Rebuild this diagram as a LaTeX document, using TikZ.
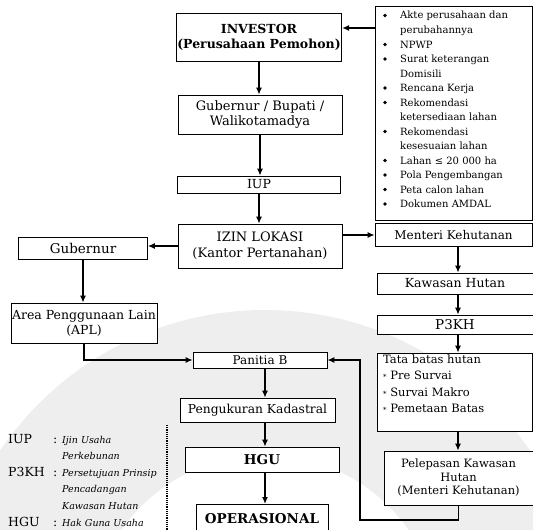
\documentclass[tikz,border=0pt]{standalone}
\usepackage{fontspec}
\setmainfont{DejaVu Serif}
\usetikzlibrary{arrows.meta}

\begin{document}
\begin{tikzpicture}[x=1pt,y=-1pt,
  kotak/.style={draw,line width=0.7pt,align=center,inner sep=1pt,font=\fontsize{12}{14}\selectfont},
  besar/.style={font=\fontsize{12.5}{15}\selectfont},
  tebal/.style={font=\fontsize{12.5}{15}\selectfont\bfseries},
  panah/.style={line width=2.2pt,-{Latex[length=7pt,width=6pt]}},
  isi/.style={anchor=base west,inner sep=0pt,font=\fontsize{10}{12}\selectfont},
  titik/.style={circle,fill,inner sep=0pt,minimum size=3.6pt},
  ket/.style={anchor=base west,inner sep=0pt,font=\fontsize{12.5}{14}\selectfont},
  arti/.style={anchor=base west,inner sep=0pt,font=\fontsize{9.5}{11}\selectfont\itshape}]
\useasboundingbox (0,0) rectangle (533,530);
\clip (0,0) rectangle (533,530);

% tanda air
\fill[gray!13,even odd rule] (265,630) circle[radius=320] (265,630) circle[radius=175];

% kolom tengah atas
\node[kotak,tebal,minimum width=164,minimum height=48] (inv) at (259,37) {INVESTOR\\(Perusahaan Pemohon)};
\node[kotak,font=\fontsize{13}{15.5}\selectfont,minimum width=164,minimum height=39] (gub) at (260,114.5) {Gubernur / Bupati /\\Walikotamadya};
\node[kotak,besar,minimum width=163,minimum height=17] (iup) at (259,184.5) {IUP};
\node[kotak,font=\fontsize{13}{16}\selectfont,minimum width=164,minimum height=44] (izin) at (260,246) {IZIN LOKASI\\(Kantor Pertanahan)};

% persyaratan
\node[kotak,fill=white,minimum width=157,minimum height=214] (syarat) at (453.5,113) {};
\foreach \n/\t in {0/Akte perusahaan dan,1/perubahannya,2/NPWP,3/Surat keterangan,4/Domisili,5/Rencana Kerja,6/Rekomendasi,7/ketersediaan lahan,8/Rekomendasi,9/kesesuaian lahan,10/Lahan ≤ 20 000 ha,11/Pola Pengembangan,12/Peta calon lahan,13/Dokumen AMDAL}
  \node[isi] (s\n) at (400,19+14.5*\n) {\t};
\foreach \n in {0,2,3,5,6,8,10,11,12,13}
  \node[titik] (b\n) at (385,15.5+14.5*\n) {};

% kolom kanan
\node[kotak,fill=white,minimum width=157,minimum height=23] (menteri) at (453.5,235) {Menteri Kehutanan};
\node[kotak,fill=white,besar,minimum width=156,minimum height=21] (kawasan) at (455,283.5) {Kawasan Hutan};
\node[kotak,fill=white,font=\fontsize{13.5}{15}\selectfont,minimum width=156,minimum height=19] (p3kh) at (455,324.5) {P3KH};
\node[kotak,fill=white,minimum width=155,minimum height=78] (tata) at (455,392) {};
\node[isi,font=\fontsize{11.5}{13}\selectfont] (t0) at (383,363) {Tata batas hutan};
\foreach \n/\t in {1/Pre Survai,2/Survai Makro,3/Pemetaan Batas}
  \node[isi,font=\fontsize{11.5}{13}\selectfont] (t\n) at (383,363+16.5*\n) {{\fontsize{7}{7}\selectfont*} \t};
\node[kotak,fill=white,font=\fontsize{11.5}{13.5}\selectfont,minimum width=149,minimum height=54] (lepas) at (458.5,478) {Pelepasan Kawasan\\Hutan\\(Menteri Kehutanan)};

% kolom kiri
\node[kotak,fill=white,font=\fontsize{13.5}{15}\selectfont,minimum width=129,minimum height=22] (gubkiri) at (83,248) {Gubernur};
\node[kotak,fill=white,besar,minimum width=146,minimum height=40] (apl) at (84,323) {Area Penggunaan Lain\\(APL)};

% kolom tengah bawah
\node[kotak,fill=white,minimum width=134,minimum height=16] (panitia) at (260,360) {Panitia B};
\node[kotak,fill=white,font=\fontsize{12.3}{14}\selectfont,minimum width=155,minimum height=24] (ukur) at (257.5,410) {Pengukuran Kadastral};
\node[kotak,fill=white,font=\fontsize{13.5}{15}\selectfont\bfseries,minimum width=154,minimum height=25] (hgu) at (262,459.5) {HGU};
\node[kotak,fill=white,font=\fontsize{13.5}{15}\selectfont\bfseries,anchor=north,minimum width=132,text height=15pt,text depth=22pt,inner sep=4pt] (ops) at (262,504) {OPERASIONAL};
\coordinate (kolom) at (265,0);
\coordinate (balik) at (360,520);

% keterangan
\node[ket] (k1) at (8,443) {IUP};
\node[ket] (k2) at (8,476) {P3KH};
\node[ket] (k3) at (8,526) {HGU};
\foreach \y in {443,476,526}
  \node[ket] (c\y) at (53,\y) {:};
\node[arti] (a1) at (62,443) {Ijin Usaha};
\node[arti] (a2) at (62,459) {Perkebunan};
\node[arti] (a3) at (62,476) {Persetujuan Prinsip};
\node[arti] (a4) at (62,492) {Pencadangan};
\node[arti] (a5) at (62,509) {Kawasan Hutan};
\node[arti] (a6) at (62,526) {Hak Guna Usaha};
\draw[line width=1.2pt,densely dotted] (167,425) -- (167,530);

% panah
\draw[panah] (inv.south) -- (inv.south |- gub.north);
\draw[panah] (gub.south) -- (gub.south |- iup.north);
\draw[panah] (iup.south) -- (iup.south |- izin.north);
\draw[panah] ([yshift=9pt]inv.east -| syarat.west) -- ([yshift=9pt]inv.east);
\draw[panah] (izin.west) -- (izin.west -| gubkiri.east);
\draw[panah] (gubkiri.south) -- (gubkiri.south |- apl.north);
\draw[panah] (izin.east |- menteri) -- (menteri.west);
\draw[panah] ([xshift=4.5pt]menteri.south) -- ([xshift=4.5pt]menteri.south |- kawasan.north);
\draw[panah] ([xshift=3pt]kawasan.south) -- ([xshift=3pt]kawasan.south |- p3kh.north);
\draw[panah] ([xshift=3pt]p3kh.south) -- ([xshift=3pt]p3kh.south |- tata.north);
\draw[panah] ([xshift=3pt]tata.south) -- ([xshift=3pt]tata.south |- lepas.north);
\draw[panah] (apl.south) |- (panitia.west);
\draw[panah,line width=1.4pt] (lepas.south) |- (balik) |- (panitia.east);
\draw[panah] (panitia.south -| kolom) -- (ukur.north -| kolom);
\draw[panah] (ukur.south -| kolom) -- (hgu.north -| kolom);
\draw[panah] (hgu.south -| kolom) -- (ops.north -| kolom);
\end{tikzpicture}
\end{document}
